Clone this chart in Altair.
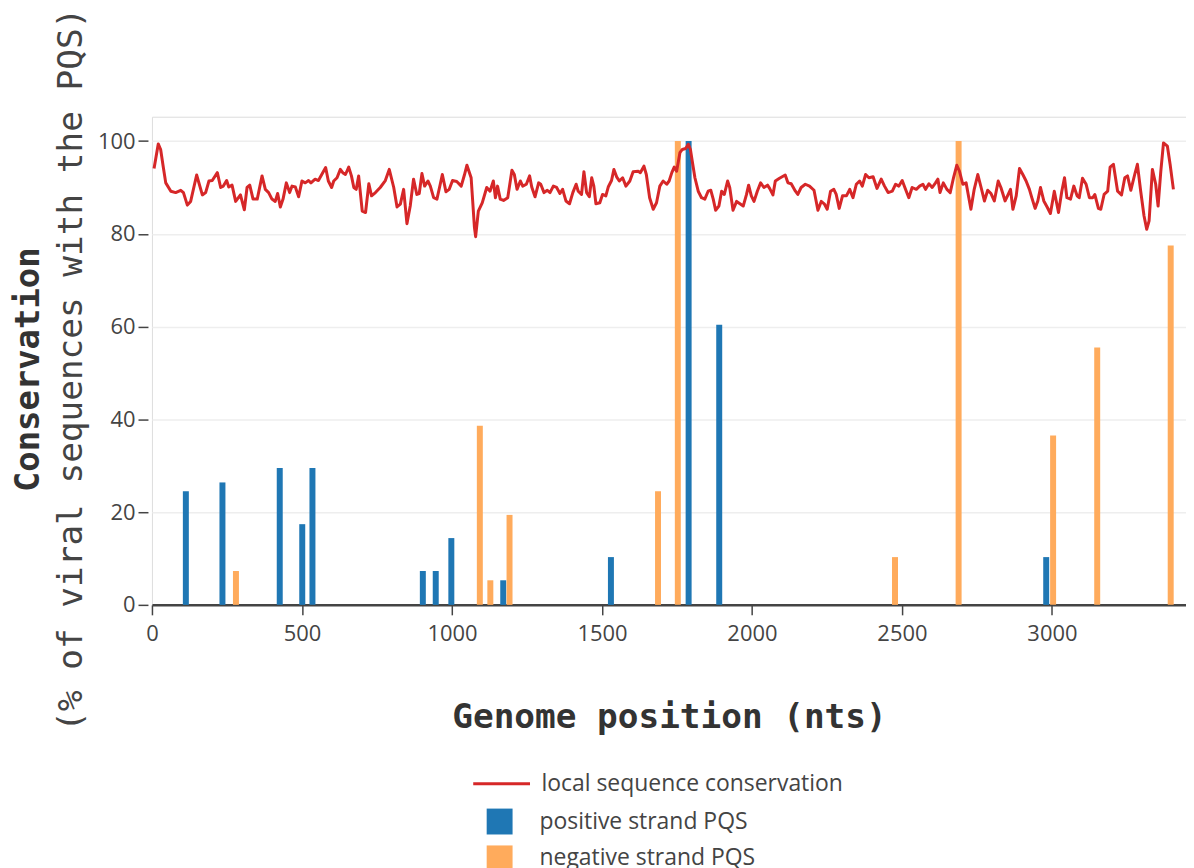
import altair as alt
import pandas as pd

# ---- data ----
pos_strand_pos = [113, 235, 426, 501, 535, 903, 946, 998, 1171, 1530, 1789, 1891, 2981]
pos_strand_val = [24.5, 26.4, 29.5, 17.4, 29.5, 7.3, 7.3, 14.4, 5.3, 10.3, 100, 60.4, 10.3]

neg_strand_pos = [280, 1093, 1128, 1192, 1687, 1753, 2477, 2689, 3004, 3151, 3396]
neg_strand_val = [7.3, 38.6, 5.3, 19.4, 24.5, 100, 10.3, 100, 36.5, 55.5, 77.5]

line_pos = [
    7, 21, 29, 38, 46, 63, 79, 96, 105, 118, 129, 149, 168, 179, 190, 201, 218, 229, 238, 249,
    256, 267, 279, 295, 308, 317, 326, 337, 351, 367, 378, 389, 400, 411, 419, 428, 437, 448, 459, 467,
    478, 489, 500, 511, 522, 530, 544, 555, 566,
    579, 588, 599, 606, 617, 628, 636, 645, 656, 665, 673, 681, 689, 701, 712, 723, 732, 745, 761, 778,
    791, 806, 817, 828, 839, 850, 861, 872, 883, 891, 900, 909, 920, 928, 939, 950, 961, 968, 980, 991,
    1002, 1016, 1031, 1042, 1050, 1064, 1075, 1079, 1088, 1101, 1116, 1127, 1138,
    1145, 1152, 1161, 1172, 1186, 1200, 1208, 1217, 1228, 1236, 1248, 1259, 1266, 1277, 1289, 1296, 1307,
    1318, 1327, 1338, 1349, 1360, 1369, 1380, 1392, 1403, 1414, 1421, 1432, 1440, 1449, 1458, 1466, 1473,
    1480, 1493, 1502, 1513, 1521, 1532, 1540, 1549, 1558, 1569, 1580, 1593, 1604, 1621, 1628, 1640, 1648,
    1659, 1671, 1682, 1693, 1704,
    1716, 1724, 1733, 1741, 1749, 1760, 1768, 1779, 1788, 1795, 1801, 1810, 1821, 1832, 1843, 1854, 1863,
    1871, 1879, 1890, 1899, 1908, 1919, 1926, 1937, 1949, 1960, 1971, 1982, 1989, 1998, 2007, 2018, 2029,
    2040, 2052, 2059, 2070, 2078, 2092, 2111, 2120, 2131, 2145, 2153, 2164, 2178, 2192, 2207, 2214, 2220,
    2231, 2242, 2251, 2262, 2273, 2281,
    2291, 2302, 2315, 2326, 2337, 2348, 2359, 2368, 2379, 2390, 2404, 2417, 2431, 2442, 2454, 2468, 2479,
    2490, 2501, 2512, 2523, 2534, 2548, 2559, 2570, 2579, 2590, 2601, 2612, 2620, 2627, 2638, 2650, 2661,
    2672, 2683, 2692, 2703, 2714, 2723, 2730, 2741, 2753, 2764, 2775, 2786, 2797, 2808, 2821, 2830, 2844,
    2852,
    2862, 2870, 2881, 2892, 2903, 2914, 2925, 2933, 2944, 2953, 2962, 2973, 2984, 2995, 3008, 3022, 3033,
    3042, 3050, 3062, 3073, 3084, 3091, 3102, 3114, 3125, 3136, 3143, 3155, 3163, 3174, 3186, 3194, 3205,
    3219, 3232, 3243, 3252, 3263, 3276, 3285, 3296, 3307, 3316, 3324, 3335, 3346, 3354, 3363, 3372, 3385,
    3394, 3405,
]
line_val = [
    94.1, 99.4, 98.2, 94.3, 91.0, 89.2, 88.9, 89.4, 88.9, 86.2, 87.0, 92.7, 88.4, 88.9, 91.4, 91.5, 93.2, 90.0, 90.3, 91.5,
    90.1, 90.5, 87.0, 88.4, 85.2, 90.0, 90.5, 87.5, 87.5, 92.5, 89.6, 88.9, 87.5, 87.0, 88.7, 85.8, 87.5, 91.0, 88.9, 90.3,
    90.1, 88.0, 91.4, 91.0, 91.5, 91.0, 91.8, 91.5, 92.8,
    94.3, 91.4, 90.0, 91.4, 92.1, 93.9, 93.2, 92.8, 94.4, 92.5, 90.0, 89.6, 92.5, 84.9, 84.6, 90.8, 88.2, 88.9, 90.0, 91.5,
    93.9, 90.0, 85.8, 86.4, 89.6, 82.2, 86.0, 91.8, 88.5, 88.7, 93.0, 90.3, 91.4, 90.3, 87.8, 87.5, 90.7, 92.8, 89.1, 89.6,
    91.5, 91.3, 90.3, 92.8, 94.8, 92.1, 81.4, 79.4, 84.9, 86.7, 90.0, 89.2, 91.4,
    87.8, 90.3, 87.5, 87.2, 87.8, 93.7, 92.8, 89.6, 91.4, 90.3, 90.7, 92.5, 90.1, 88.0, 91.0, 90.7, 88.9,
    89.4, 88.9, 90.3, 90.0, 88.7, 89.6, 87.1, 86.5, 88.9, 90.7, 89.2, 88.5, 93.4, 88.9, 88.0, 92.1, 90.3,
    86.5, 86.7, 88.5, 88.2, 90.1, 91.5, 93.9, 92.3, 91.4, 92.1, 90.3, 91.4, 93.4, 93.5, 93.2, 94.6, 92.8,
    87.8, 85.3, 86.7, 90.3, 91.4,
    90.7, 91.4, 93.2, 94.4, 93.5, 97.5, 98.2, 98.4, 99.3, 98.2, 95.7, 92.1, 89.2, 87.8, 87.5, 89.2, 89.4,
    87.5, 85.1, 86.0, 89.2, 88.5, 91.4, 90.0, 85.1, 87.0, 86.5, 86.0, 88.5, 90.5, 88.2, 87.0, 89.2, 91.0,
    90.0, 90.5, 89.8, 88.4, 91.4, 92.0, 92.7, 91.0, 90.8, 89.2, 88.5, 90.0, 90.7, 90.3, 89.4, 87.1, 85.1,
    87.0, 86.4, 85.3, 89.2, 89.6, 88.5,
    85.5, 88.2, 88.2, 89.6, 87.8, 90.7, 91.4, 90.3, 92.8, 92.1, 92.3, 89.8, 91.8, 90.3, 88.9, 89.2, 90.7,
    90.3, 91.5, 89.6, 87.8, 90.0, 89.6, 90.3, 90.7, 89.6, 90.8, 90.0, 91.0, 91.8, 88.9, 91.0, 89.6, 88.9,
    92.1, 94.8, 93.5, 90.7, 91.0, 87.8, 85.3, 89.6, 92.8, 90.0, 87.1, 89.4, 88.7, 87.1, 91.4, 90.0, 87.1,
    88.2,
    89.6, 85.3, 88.2, 94.1, 92.8, 91.4, 89.6, 87.8, 85.5, 87.1, 90.0, 87.1, 85.8, 84.4, 89.2, 84.6, 89.2,
    92.1, 87.8, 87.5, 90.3, 88.2, 87.8, 92.0, 90.7, 87.8, 87.8, 88.5, 85.5, 85.3, 88.5, 89.2, 94.4, 95.0,
    89.2, 88.4, 92.1, 92.5, 89.4, 92.8, 95.0, 89.2, 83.9, 81.0, 82.8, 93.9, 90.7, 86.0, 93.5, 99.6, 98.9,
    95.0, 89.6,
]

x_ticks = [0, 500, 1000, 1500, 2000, 2500, 3000]
y_ticks = [0, 20, 40, 60, 80, 100]

LINE_NAME = "local sequence conservation"
POS_NAME = "positive strand PQS"
NEG_NAME = "negative strand PQS"

line_df = pd.DataFrame({"pos": line_pos, "cons": line_val, "series": LINE_NAME})
bars_df = pd.DataFrame({
    "pos": pos_strand_pos + neg_strand_pos,
    "cons": pos_strand_val + neg_strand_val,
    "strand": [POS_NAME] * len(pos_strand_pos) + [NEG_NAME] * len(neg_strand_pos),
})

TICK_FONT = "Open Sans"
MONO = "DejaVu Sans Mono"

x_enc = alt.X(
    "pos:Q",
    scale=alt.Scale(domain=[0, 3447], nice=False, zero=False, padding=0),
    axis=alt.Axis(
        title="Genome position (nts)", values=x_ticks, format="d", grid=False, labelFlush=False,
        domainColor="#444", domainWidth=2.5, tickColor="#444", tickWidth=1.5, tickSize=10,
        labelFont=TICK_FONT, labelFontSize=22, labelColor="#444", labelPadding=9,
        titleFont=MONO, titleFontSize=34.5, titleFontWeight="bold", titleColor="#333",
        titlePadding=56,
    ),
)
y_enc = alt.Y(
    "cons:Q",
    scale=alt.Scale(domain=[0, 105.26], nice=False, padding=0),
    axis=alt.Axis(
        title=None, values=y_ticks, grid=True, gridColor="#eeeeee", gridWidth=1.5, labelFlush=False,
        domain=False, tickColor="#444", tickWidth=1.5, tickSize=10, offset=4,
        labelFont=TICK_FONT, labelFontSize=22, labelColor="#444", labelPadding=3,
    ),
)

bars = alt.Chart(bars_df).mark_bar(size=6).encode(
    x=x_enc,
    y=y_enc,
    fill=alt.Fill(
        "strand:N",
        scale=alt.Scale(domain=[POS_NAME, NEG_NAME], range=["#1f77b4", "#ffab5c"]),
        legend=alt.Legend(
            title=None, orient="none", legendX=336, legendY=694.5,
            symbolType="square", symbolSize=676, symbolStrokeWidth=0,
            labelFont=TICK_FONT, labelFontSize=23, labelColor="#444", labelLimit=0,
            labelOffset=27, rowPadding=11, padding=0,
        ),
    ),
)

line = alt.Chart(line_df).mark_line(strokeWidth=3, strokeJoin="round").encode(
    x=x_enc,
    y=y_enc,
    stroke=alt.Stroke(
        "series:N",
        scale=alt.Scale(domain=[LINE_NAME], range=["#d62728"]),
        legend=alt.Legend(
            title=None, orient="none", legendX=321, legendY=639.5,
            symbolType="stroke", symbolSize=3249, symbolStrokeWidth=3,
            labelFont=TICK_FONT, labelFontSize=23, labelColor="#444", labelLimit=0,
            labelOffset=10, padding=0,
        ),
    ),
)

chart = alt.layer(bars, line).resolve_legend(fill="independent", stroke="independent").properties(
    width=1038,
    height=490,
    padding={"left": 144.5, "top": 107.5, "right": 0, "bottom": 263},
    autosize=alt.AutoSizeParams(type="none"),
    title=alt.TitleParams(
        text="Conservation",
        subtitle="(% of viral sequences with the PQS)",
        orient="left", anchor="middle",
        font=MONO, fontSize=34, fontWeight="bold", color="#333",
        subtitleFont=MONO, subtitleFontSize=34.5, subtitleFontWeight="normal", subtitleColor="#444",
        subtitlePadding=9, offset=9, dx=-9,
    ),
).configure_view(stroke="transparent", strokeWidth=0).configure(background="white")

chart.save("out.html", embed_options={"renderer": "svg", "actions": False})
